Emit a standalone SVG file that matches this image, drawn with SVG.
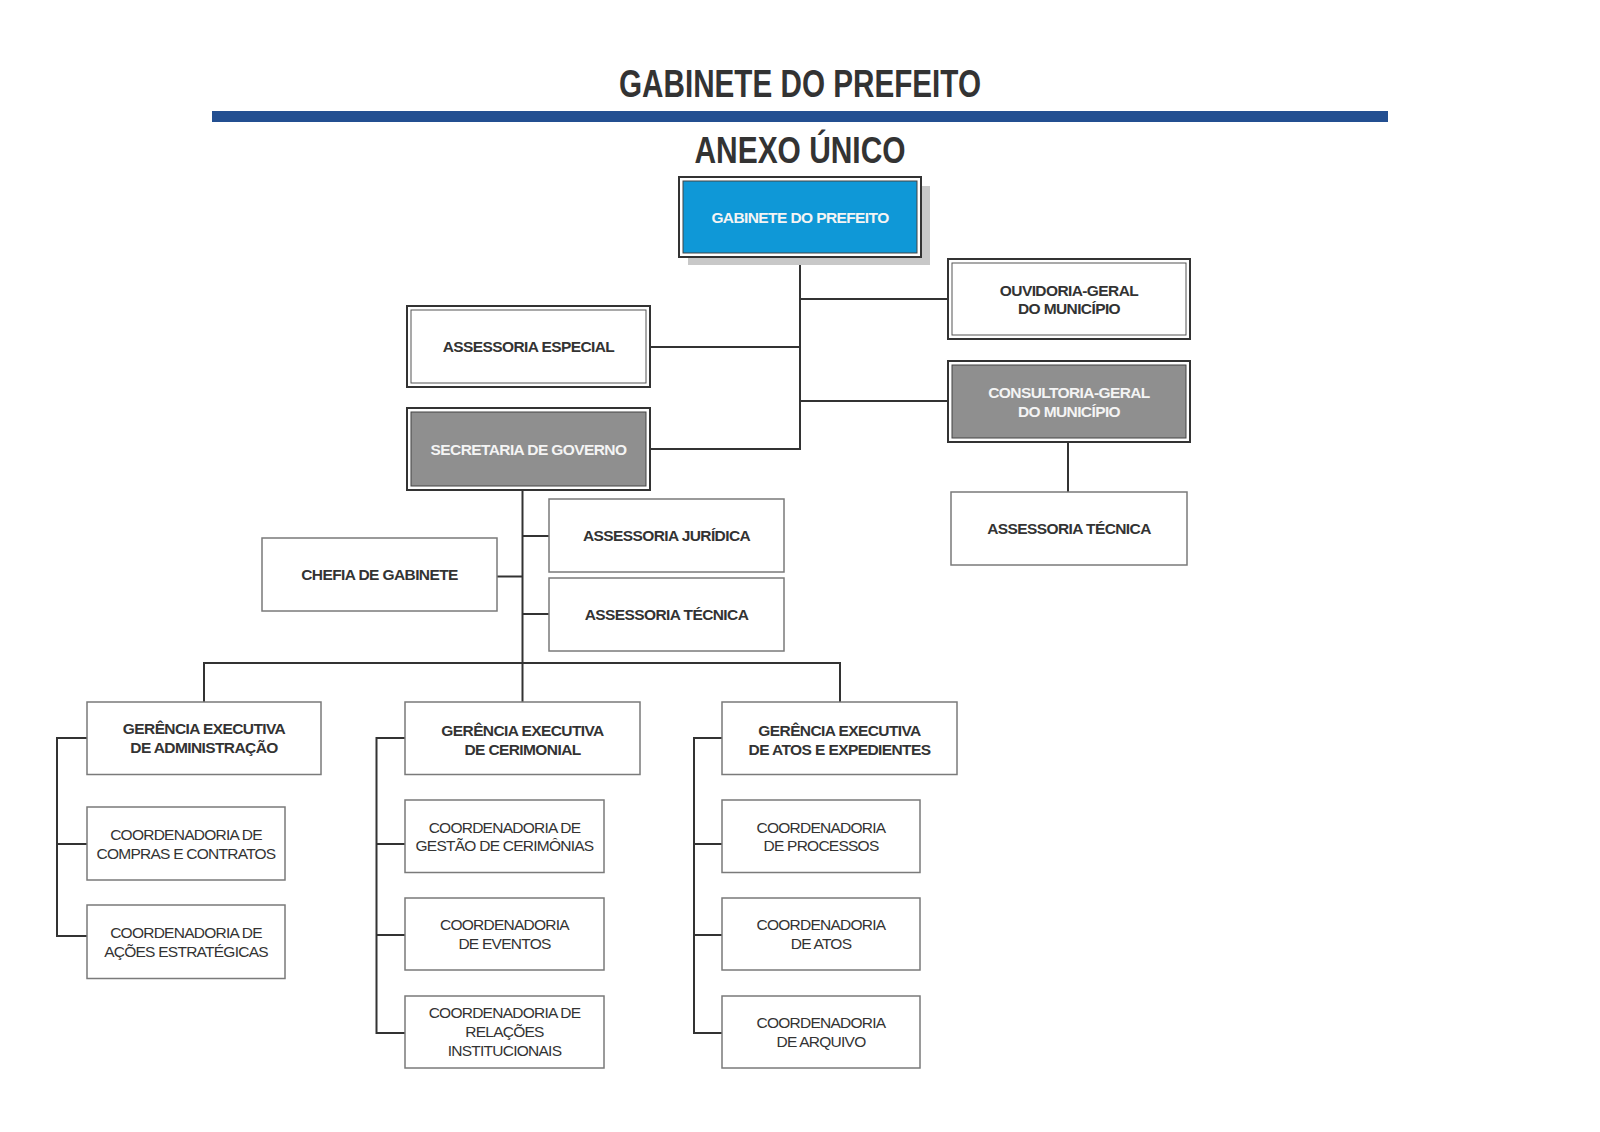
<svg xmlns="http://www.w3.org/2000/svg" width="1600" height="1132" viewBox="0 0 1600 1132">
<style>
.bg{fill:#ffffff}
.title{font-family:"Liberation Sans",Arial,sans-serif;font-weight:bold;fill:#333333;text-anchor:middle}
.outer{fill:#ffffff;stroke:#333333;stroke-width:2}
.inner{fill:#ffffff;stroke:#555555;stroke-width:1}
.innerBlue{fill:#0f98d7;stroke:#444444;stroke-width:1}
.innerGray{fill:#8f8f8f;stroke:#444444;stroke-width:1}
.single{fill:#ffffff;stroke:#7a7a7a;stroke-width:1.5}
.shadow{fill:#c8c8c8}
.lb{font-family:"Liberation Sans",Arial,sans-serif;font-weight:bold;font-size:15.5px;fill:#333333;text-anchor:middle;letter-spacing:-0.6px}
.lbw{font-family:"Liberation Sans",Arial,sans-serif;font-weight:bold;font-size:15.5px;fill:#f4f4f4;text-anchor:middle;letter-spacing:-0.6px}
.lr{font-family:"Liberation Sans",Arial,sans-serif;font-size:15.5px;fill:#333333;text-anchor:middle;letter-spacing:-0.75px}
.conn{fill:none;stroke:#333333;stroke-width:2}
</style>
<rect class="bg" x="0" y="0" width="1600" height="1132"/>

<g id="header">
<text class="title" x="800" y="97" font-size="38" textLength="362" lengthAdjust="spacingAndGlyphs">GABINETE DO PREFEITO</text>
<rect x="212" y="111" width="1176" height="11" fill="#234f91"/>
<text class="title" x="800" y="163" font-size="37" textLength="211" lengthAdjust="spacingAndGlyphs">ANEXO ÚNICO</text>
</g>

<g id="connectors">
<path class="conn" d="M800 258 V449 H650"/>
<path class="conn" d="M800 299 H948"/>
<path class="conn" d="M800 347 H650"/>
<path class="conn" d="M800 401 H948"/>
<path class="conn" d="M1068 442 V492"/>
<path class="conn" d="M522.5 490 V702"/>
<path class="conn" d="M522.5 536 H549"/>
<path class="conn" d="M522.5 614 H549"/>
<path class="conn" d="M522.5 576.5 H497"/>
<path class="conn" d="M204 702 V663 H840 V702"/>
<path class="conn" d="M87 738 H57 V936 H87"/>
<path class="conn" d="M57 844 H87"/>
<path class="conn" d="M405 738 H376.5 V1033 H405"/>
<path class="conn" d="M376.5 844 H405"/>
<path class="conn" d="M376.5 935 H405"/>
<path class="conn" d="M722 738 H694 V1033 H722"/>
<path class="conn" d="M694 844 H722"/>
<path class="conn" d="M694 935 H722"/>
</g>

<g id="gabinete-prefeito">
<rect class="shadow" x="688" y="186" width="242" height="79"/>
<rect class="outer" x="679" y="177" width="242" height="80"/>
<rect class="innerBlue" x="683" y="181" width="234" height="72"/>
<text class="lbw" x="800" y="222.5">GABINETE DO PREFEITO</text>
</g>

<g id="ouvidoria">
<rect class="outer" x="948" y="259" width="242" height="80"/>
<rect class="inner" x="952" y="263" width="234" height="72"/>
<text class="lb" x="1069" y="295.5">OUVIDORIA-GERAL</text>
<text class="lb" x="1069" y="314">DO MUNICÍPIO</text>
</g>

<g id="assessoria-especial">
<rect class="outer" x="407" y="306" width="243" height="81"/>
<rect class="inner" x="411" y="310" width="235" height="73"/>
<text class="lb" x="528.5" y="352">ASSESSORIA ESPECIAL</text>
</g>

<g id="consultoria">
<rect class="outer" x="948" y="361" width="242" height="81"/>
<rect class="innerGray" x="952" y="365" width="234" height="73"/>
<text class="lbw" x="1069" y="398">CONSULTORIA-GERAL</text>
<text class="lbw" x="1069" y="416.5">DO MUNICÍPIO</text>
</g>

<g id="secretaria-governo">
<rect class="outer" x="407" y="408" width="243" height="82"/>
<rect class="innerGray" x="411" y="412" width="235" height="74"/>
<text class="lbw" x="528.5" y="454.5">SECRETARIA DE GOVERNO</text>
</g>

<g id="assessoria-tecnica-consultoria">
<rect class="single" x="951" y="492" width="236" height="73"/>
<text class="lb" x="1069" y="533.5">ASSESSORIA TÉCNICA</text>
</g>

<g id="assessoria-juridica">
<rect class="single" x="549" y="499" width="235" height="73"/>
<text class="lb" x="666.5" y="541">ASSESSORIA JURÍDICA</text>
</g>

<g id="assessoria-tecnica">
<rect class="single" x="549" y="578" width="235" height="73"/>
<text class="lb" x="666.5" y="620">ASSESSORIA TÉCNICA</text>
</g>

<g id="chefia-gabinete">
<rect class="single" x="262" y="538" width="235" height="73"/>
<text class="lb" x="379.5" y="580">CHEFIA DE GABINETE</text>
</g>

<g id="ge-administracao">
<rect class="single" x="87" y="702" width="234" height="72.5"/>
<text class="lb" x="204" y="734">GERÊNCIA EXECUTIVA</text>
<text class="lb" x="204" y="753">DE ADMINISTRAÇÃO</text>
</g>

<g id="ge-cerimonial">
<rect class="single" x="405" y="702" width="235" height="72.5"/>
<text class="lb" x="522.5" y="736">GERÊNCIA EXECUTIVA</text>
<text class="lb" x="522.5" y="755">DE CERIMONIAL</text>
</g>

<g id="ge-atos">
<rect class="single" x="722" y="702" width="235" height="72.5"/>
<text class="lb" x="839.5" y="736">GERÊNCIA EXECUTIVA</text>
<text class="lb" x="839.5" y="755">DE ATOS E EXPEDIENTES</text>
</g>

<g id="coord-compras">
<rect class="single" x="87" y="807" width="198" height="73"/>
<text class="lr" x="186" y="840">COORDENADORIA DE</text>
<text class="lr" x="186" y="858.5">COMPRAS E CONTRATOS</text>
</g>

<g id="coord-acoes">
<rect class="single" x="87" y="905" width="198" height="73.5"/>
<text class="lr" x="186" y="937.5">COORDENADORIA DE</text>
<text class="lr" x="186" y="956.5">AÇÕES ESTRATÉGICAS</text>
</g>

<g id="coord-gestao">
<rect class="single" x="405" y="800" width="199" height="72.5"/>
<text class="lr" x="504.5" y="832.5">COORDENADORIA DE</text>
<text class="lr" x="504.5" y="851">GESTÃO DE CERIMÔNIAS</text>
</g>

<g id="coord-eventos">
<rect class="single" x="405" y="898" width="199" height="72"/>
<text class="lr" x="504.5" y="930">COORDENADORIA</text>
<text class="lr" x="504.5" y="949">DE EVENTOS</text>
</g>

<g id="coord-relacoes">
<rect class="single" x="405" y="996" width="199" height="72"/>
<text class="lr" x="504.5" y="1018">COORDENADORIA DE</text>
<text class="lr" x="504.5" y="1037">RELAÇÕES</text>
<text class="lr" x="504.5" y="1056">INSTITUCIONAIS</text>
</g>

<g id="coord-processos">
<rect class="single" x="722" y="800" width="198" height="72.5"/>
<text class="lr" x="821" y="832.5">COORDENADORIA</text>
<text class="lr" x="821" y="851">DE PROCESSOS</text>
</g>

<g id="coord-atos">
<rect class="single" x="722" y="898" width="198" height="72"/>
<text class="lr" x="821" y="930">COORDENADORIA</text>
<text class="lr" x="821" y="949">DE ATOS</text>
</g>

<g id="coord-arquivo">
<rect class="single" x="722" y="996" width="198" height="72"/>
<text class="lr" x="821" y="1028">COORDENADORIA</text>
<text class="lr" x="821" y="1047">DE ARQUIVO</text>
</g>
</svg>
